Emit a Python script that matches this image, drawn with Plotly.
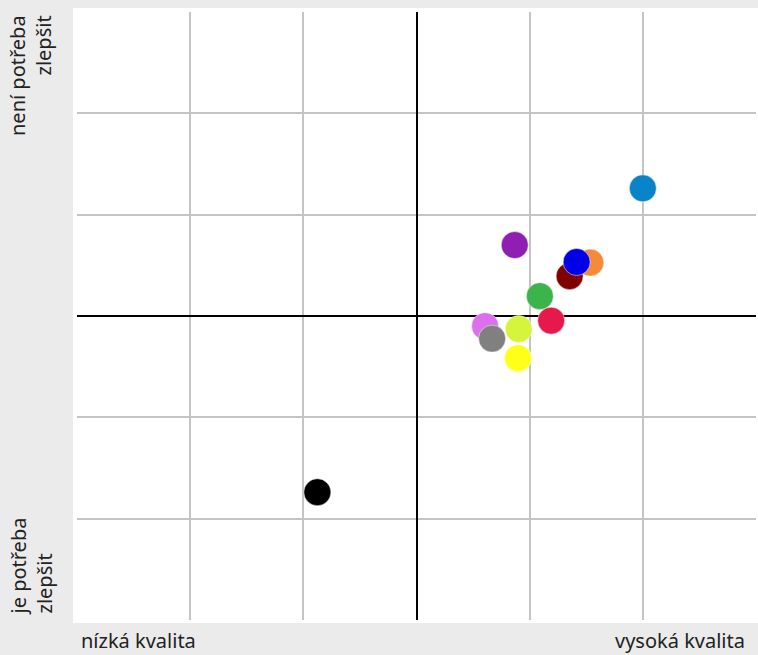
import plotly.graph_objects as go

# Data
x_vals = [2.0, 0.868, 1.536, 1.353, 1.415, 1.09, 1.19, 0.903, 0.606, 0.668, 0.897, -0.876]
y_vals = [1.26, 0.70, 0.527, 0.393, 0.533, 0.196, -0.046, -0.128, -0.10, -0.223, -0.416, -1.739]
colors = ["#0a84c9", "#8e1fb2", "#f58a38", "#800000", "#0000e8", "#3cb44b",
          "#e6194b", "#d4f53c", "#dc6fec", "#808080", "#ffff19", "#000000"]
tick_vals = [-3, -2, -1, 0, 1, 2, 3]

FONT = "Noto Sans"

fig = go.Figure()
fig.add_trace(go.Scatter(
    x=x_vals, y=y_vals, mode="markers",
    marker=dict(size=27, color=colors, line=dict(width=0.5, color="white")),
    hoverinfo="skip", showlegend=False,
))

axis_common = dict(
    range=[-3, 3], tickvals=tick_vals, showticklabels=False,
    showgrid=True, gridcolor="#c4c4c4", gridwidth=1.5,
    zeroline=True, zerolinecolor="black", zerolinewidth=2,
    showline=False, fixedrange=True,
)
fig.update_xaxes(**axis_common)
fig.update_yaxes(**axis_common)

fig.add_shape(type="rect", xref="paper", yref="paper",
              x0=-0.006, x1=1.004, y0=-0.005, y1=1.0066,
              fillcolor="white", line=dict(width=0), layer="below")

tf = dict(family=FONT, size=20, color="#222222")
fig.add_annotation(xref="paper", yref="paper", x=0.0, y=0.0, xanchor="left", yanchor="top",
                   xshift=2, yshift=-5,
                   text="nízká kvalita", showarrow=False, font=tf)
fig.add_annotation(xref="paper", yref="paper", x=1.0, y=0.0, xanchor="right", yanchor="top",
                   xshift=-9, yshift=-5,
                   text="vysoká kvalita", showarrow=False, font=tf)
fig.add_annotation(xref="paper", yref="paper", x=0.0, y=1.0, xanchor="right", yanchor="top",
                   xshift=-18, yshift=-1,
                   text="není potřeba<br>zlepšit", showarrow=False, font=tf, textangle=-90,
                   align="right")
fig.add_annotation(xref="paper", yref="paper", x=0.0, y=0.0, xanchor="right", yanchor="bottom",
                   xshift=-18, yshift=2,
                   text="je potřeba<br>zlepšit", showarrow=False, font=tf, textangle=-90,
                   align="left")

fig.update_layout(
    width=758, height=655,
    margin=dict(l=77, r=2, t=12, b=35),
    paper_bgcolor="#ebebeb", plot_bgcolor="white",
    font=dict(family=FONT),
)

fig.write_html("out.html", config={"displayModeBar": False},
               post_script="document.body.style.margin='0';document.body.style.background='#ebebeb';")
